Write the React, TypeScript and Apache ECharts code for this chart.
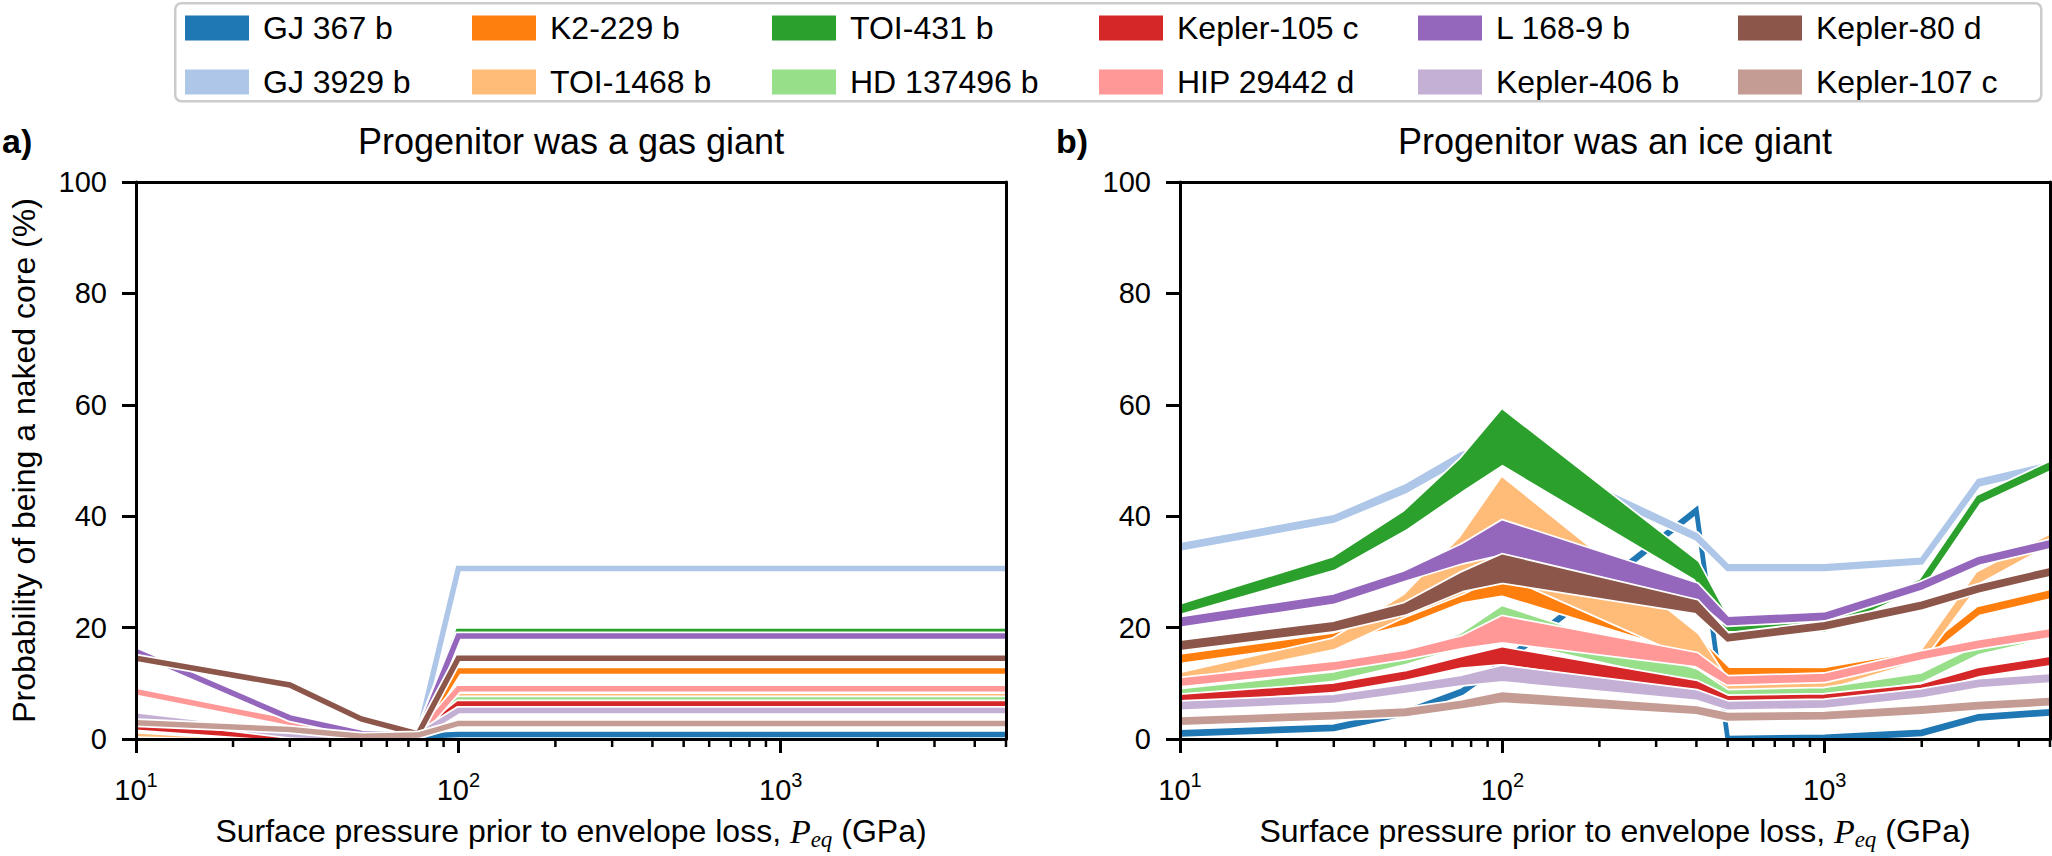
import React, { useEffect, useRef } from 'react';
import * as echarts from 'echarts';

// ---------- data ----------
const planets = ['GJ 367 b', 'GJ 3929 b', 'K2-229 b', 'TOI-1468 b', 'TOI-431 b', 'HD 137496 b', 'Kepler-105 c', 'HIP 29442 d', 'L 168-9 b', 'Kepler-406 b', 'Kepler-80 d', 'Kepler-107 c'];
const colors = ['#1f77b4', '#aec7e8', '#ff7f0e', '#ffbb78', '#2ca02c', '#98df8a', '#d62728', '#ff9896', '#9467bd', '#c5b0d5', '#8c564b', '#c49c94'];
const pressures = [10, 30, 50, 75, 100, 400, 500, 1000, 2000, 3000, 5000];
const majorTicks = [10, 100, 1000];
const minorTicks = [20, 30, 40, 50, 60, 70, 80, 90, 200, 300, 400, 500, 600, 700, 800, 900, 2000, 3000, 4000, 5000];

// panel a) progenitor was a gas giant (one value per pressure)
const gasValues: number[][] = [
  [0, 0, 0, 0.5, 0.8, 0.8, 0.8, 0.8, 0.8, 0.8, 0.8],
  [0, 0, 0, 0.5, 30.6, 30.6, 30.6, 30.6, 30.6, 30.6, 30.6],
  [0.7, 0.2, 0, 0.6, 12.2, 12.2, 12.2, 12.2, 12.2, 12.2, 12.2],
  [1.0, 0.3, 0, 0.6, 7.6, 7.6, 7.6, 7.6, 7.6, 7.6, 7.6],
  [1.8, 0, 0, 0.6, 19.3, 19.3, 19.3, 19.3, 19.3, 19.3, 19.3],
  [2.0, 0, 0, 0.6, 7.0, 7.0, 7.0, 7.0, 7.0, 7.0, 7.0],
  [2.2, 0.2, 0, 0.6, 6.3, 6.3, 6.3, 6.3, 6.3, 6.3, 6.3],
  [8.5, 3.0, 0.6, 0.7, 9.0, 9.0, 9.0, 9.0, 9.0, 9.0, 9.0],
  [15.7, 3.8, 1.0, 0.7, 18.5, 18.5, 18.5, 18.5, 18.5, 18.5, 18.5],
  [4.1, 0.8, 0.3, 0.6, 5.1, 5.1, 5.1, 5.1, 5.1, 5.1, 5.1],
  [14.5, 9.7, 3.6, 0.9, 14.5, 14.5, 14.5, 14.5, 14.5, 14.5, 14.5],
  [2.9, 1.7, 0.5, 0.7, 2.8, 2.8, 2.8, 2.8, 2.8, 2.8, 2.8],
];

// panel b) progenitor was an ice giant (lower / upper bounds)
const iceLower: number[][] = [
  [0.8, 1.8, 4.5, 8.3, 13.4, 40.8, 0, 0, 0.9, 3.7, 4.6],
  [34.2, 39.2, 44.5, 50.2, 52.0, 36.0, 30.5, 30.5, 31.7, 45.7, 48.7],
  [14.1, 17.9, 21.0, 25.0, 26.2, 15.5, 11.7, 11.7, 14.7, 22.7, 25.7],
  [10.8, 16.6, 22.5, 26.5, 30.0, 14.5, 8.8, 9.4, 14.6, 28.4, 35.4],
  [22.9, 30.8, 38.0, 45.0, 49.7, 29.0, 19.8, 19.7, 27.7, 42.7, 48.7],
  [7.9, 10.9, 13.9, 17.0, 18.3, 10.5, 7.7, 8.1, 10.7, 15.7, 18.7],
  [6.9, 8.9, 11.1, 13.3, 13.9, 9.0, 6.7, 7.0, 8.8, 11.7, 13.7],
  [9.9, 12.8, 14.8, 16.8, 17.8, 13.5, 10.2, 10.7, 14.7, 16.7, 18.7],
  [20.6, 24.7, 28.9, 32.0, 33.6, 25.5, 20.8, 21.7, 27.2, 31.7, 34.7],
  [5.7, 6.9, 8.7, 10.1, 10.8, 7.5, 5.7, 6.0, 7.9, 9.7, 10.6],
  [16.4, 19.8, 22.8, 27.0, 28.5, 23.0, 17.9, 20.0, 23.7, 26.7, 29.7],
  [2.9, 3.9, 4.5, 5.9, 7.0, 4.9, 3.7, 3.9, 4.9, 5.7, 6.4],
];
const iceUpper: number[][] = [
  [1.2, 2.2, 4.9, 8.7, 13.8, 41.2, 0.2, 0.4, 1.3, 4.1, 5.0],
  [34.8, 39.8, 45.3, 51.2, 53.0, 36.6, 31.0, 31.0, 32.2, 46.3, 49.3],
  [14.7, 18.5, 22.2, 27.0, 28.6, 18.0, 12.4, 12.3, 15.3, 23.3, 26.3],
  [11.4, 17.6, 25.5, 36.0, 46.4, 18.5, 9.8, 10.0, 15.2, 29.6, 36.2],
  [23.7, 32.2, 40.5, 50.0, 58.6, 31.5, 21.0, 20.4, 28.3, 43.3, 49.3],
  [8.5, 11.5, 14.5, 18.5, 23.4, 12.0, 8.3, 8.7, 11.3, 16.3, 19.3],
  [7.5, 9.5, 11.7, 14.3, 16.0, 10.0, 7.3, 7.6, 9.4, 12.3, 14.3],
  [10.5, 13.4, 15.4, 18.0, 21.6, 15.0, 10.8, 11.3, 15.3, 17.3, 19.3],
  [21.4, 25.5, 29.7, 34.5, 38.8, 27.5, 21.5, 22.3, 27.8, 32.3, 35.3],
  [6.3, 7.5, 9.3, 10.9, 12.7, 8.3, 6.3, 6.6, 8.5, 10.3, 11.2],
  [17.2, 20.6, 24.0, 29.5, 32.7, 24.5, 18.5, 20.6, 24.3, 27.3, 30.3],
  [3.5, 4.5, 5.1, 6.5, 8.0, 5.5, 4.3, 4.5, 5.5, 6.3, 7.0],
];

const panelTitles = ['Progenitor was a gas giant', 'Progenitor was an ice giant'];
const panelLetters = ['a)', 'b)'];
const yName = 'Probability of being a naked core (%)';

// ---------- styling ----------
const FONT = "'Liberation Sans', Arial, Helvetica, sans-serif";
const SERIF = "'Liberation Serif', 'Times New Roman', serif";
const GRID_LEFT = [136, 1180];
const GRID_TOP = 182;
const GRID_W = 870;
const GRID_H = 559;
const LEGEND_COLS = [185, 472, 772, 1099, 1418, 1738];

function makeBand(name: string, color: string, lo: number[], hi: number[], axisIdx: number, lw: number) {
  return {
    type: 'custom',
    name,
    coordinateSystem: 'cartesian2d',
    xAxisIndex: axisIdx,
    yAxisIndex: axisIdx,
    clip: true,
    silent: true,
    itemStyle: { color },
    encode: { x: 0, y: [1, 2] },
    data: pressures.map((p, i) => [p, lo[i], hi[i]]),
    renderItem: (params: any, api: any) => {
      if (params.dataIndexInside !== 0) return null;
      const upper = pressures.map((p, i) => api.coord([p, hi[i]]));
      const lower = pressures.map((p, i) => api.coord([p, lo[i]])).reverse();
      const points = upper.concat(lower);
      return {
        type: 'group',
        children: [
          { type: 'polygon', shape: { points }, style: { fill: 'none', stroke: '#ffffff', lineWidth: lw + 3.5, lineJoin: 'miter', miterLimit: 4 } },
          { type: 'polygon', shape: { points }, style: { fill: color, stroke: color, lineWidth: lw, lineJoin: 'miter', miterLimit: 4 } },
        ],
      };
    },
  };
}

function makeMinorTicks(axisIdx: number) {
  return {
    type: 'custom',
    name: 'minor-ticks',
    coordinateSystem: 'cartesian2d',
    xAxisIndex: axisIdx,
    yAxisIndex: axisIdx,
    clip: false,
    silent: true,
    z: 20,
    encode: { x: 0, y: 1 },
    data: minorTicks.map((t) => [t, 0]),
    renderItem: (params: any, api: any) => {
      const pt = api.coord([api.value(0), 0]);
      return {
        type: 'line',
        shape: { x1: pt[0], y1: pt[1], x2: pt[0], y2: pt[1] + 8 },
        style: { stroke: '#000', lineWidth: 2.5 },
      };
    },
  };
}

const tickLabelRich = {
  b: { fontSize: 29, lineHeight: 40, fontFamily: FONT, color: '#000' },
  s: { fontSize: 20, lineHeight: 10, verticalAlign: 'top', fontFamily: FONT, color: '#000' },
};
const xNameRich = {
  n: { fontSize: 32, lineHeight: 40, fontFamily: FONT, color: '#000' },
  p: { fontSize: 34, lineHeight: 40, fontFamily: SERIF, fontStyle: 'italic', color: '#000' },
  e: { fontSize: 23, lineHeight: 24, verticalAlign: 'bottom', fontFamily: SERIF, fontStyle: 'italic', color: '#000' },
};
const xName = '{n|Surface pressure prior to envelope loss, }{p|P}{e|eq}{n| (GPa)}';

function buildOption() {
  const grid = GRID_LEFT.map((left) => ({ left, top: GRID_TOP, width: GRID_W, height: GRID_H, show: false, containLabel: false }));

  const mainX = [0, 1].map((g) => ({
    type: 'log', logBase: 10, gridIndex: g, min: 10, max: 5000, position: 'bottom', z: 10,
    axisLine: { show: true, onZero: false, lineStyle: { color: '#000', width: 3 } },
    axisTick: { show: true, inside: false, length: 14, lineStyle: { color: '#000', width: 3 }, customValues: majorTicks },
    axisLabel: {
      show: true, margin: 31, customValues: majorTicks,
      formatter: (v: number) => `{b|10}{s|${Math.round(Math.log10(v))}}`,
      rich: tickLabelRich,
    },
    splitLine: { show: false },
    minorTick: { show: false },
    name: xName, nameLocation: 'middle', nameGap: 72,
    nameTextStyle: { rich: xNameRich },
  }));
  const topX = [0, 1].map((g) => ({
    type: 'log', logBase: 10, gridIndex: g, min: 10, max: 5000, position: 'top', z: 10,
    axisLine: { show: true, onZero: false, lineStyle: { color: '#000', width: 3 } },
    axisTick: { show: false }, axisLabel: { show: false }, splitLine: { show: false },
  }));

  const mainY = [0, 1].map((g) => ({
    type: 'value', gridIndex: g, min: 0, max: 100, interval: 20, position: 'left', z: 10,
    axisLine: { show: true, onZero: false, lineStyle: { color: '#000', width: 3 } },
    axisTick: { show: true, inside: false, length: 14, lineStyle: { color: '#000', width: 3 } },
    axisLabel: { show: true, margin: 29, fontSize: 29, fontFamily: FONT, color: '#000' },
    splitLine: { show: false },
    name: g === 0 ? yName : '', nameLocation: 'middle', nameGap: 96,
    nameTextStyle: { fontSize: 32, fontFamily: FONT, color: '#000' },
  }));
  const rightY = [0, 1].map((g) => ({
    type: 'value', gridIndex: g, min: 0, max: 100, position: 'right', z: 10,
    axisLine: { show: true, onZero: false, lineStyle: { color: '#000', width: 3 } },
    axisTick: { show: false }, axisLabel: { show: false }, splitLine: { show: false },
  }));

  const series: any[] = [];
  planets.forEach((name, i) => {
    series.push(makeBand(name, colors[i], gasValues[i], gasValues[i], 0, 5.5));
  });
  planets.forEach((name, i) => {
    series.push(makeBand(name, colors[i], iceLower[i], iceUpper[i], 1, 4.5));
  });
  series.push(makeMinorTicks(0));
  series.push(makeMinorTicks(1));

  const legend = LEGEND_COLS.map((left, c) => ({
    orient: 'vertical', left, top: 12, itemWidth: 64, itemHeight: 25, itemGap: 22,
    icon: 'rect', selectedMode: false, padding: 0,
    data: [planets[2 * c], planets[2 * c + 1]],
    textStyle: { fontSize: 32, fontFamily: FONT, color: '#000', padding: [0, 0, 0, 9], lineHeight: 25 },
  }));

  const graphic: any[] = [
    { type: 'rect', left: 174, top: 2, z: -10, shape: { width: 1866, height: 98, r: 6 }, style: { fill: '#ffffff', stroke: '#cccccc', lineWidth: 2.5 } },
  ];
  [0, 1].forEach((g) => {
    graphic.push({
      type: 'text', x: GRID_LEFT[g] + GRID_W / 2, y: 141, z: 20,
      style: { text: panelTitles[g], fontSize: 36, fontFamily: FONT, fill: '#000', align: 'center', verticalAlign: 'middle' },
    });
  });
  graphic.push({ type: 'text', x: 2, y: 141, z: 20, style: { text: panelLetters[0], fontSize: 34, fontWeight: 'bold', fontFamily: FONT, fill: '#000', align: 'left', verticalAlign: 'middle' } });
  graphic.push({ type: 'text', x: 1056, y: 141, z: 20, style: { text: panelLetters[1], fontSize: 34, fontWeight: 'bold', fontFamily: FONT, fill: '#000', align: 'left', verticalAlign: 'middle' } });

  return {
    animation: false,
    backgroundColor: '#ffffff',
    textStyle: { fontFamily: FONT },
    grid,
    xAxis: [...mainX, ...topX],
    yAxis: [...mainY, ...rightY],
    legend,
    graphic,
    series,
  };
}

export default function App() {
  const ref = useRef<HTMLDivElement>(null);
  useEffect(() => {
    if (!ref.current) return;
    const chart = echarts.init(ref.current, undefined, { renderer: 'svg' });
    chart.setOption(buildOption() as any);
    return () => chart.dispose();
  }, []);
  return <div ref={ref} style={{ position: 'fixed', left: 0, top: 0, width: 2052, height: 856, background: '#fff' }} />;
}
